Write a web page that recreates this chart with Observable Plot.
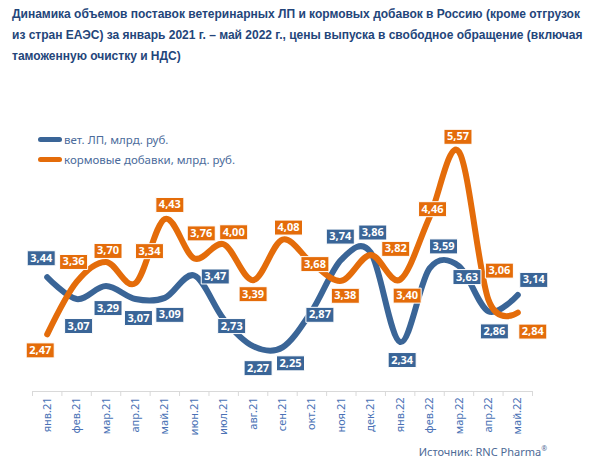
<!DOCTYPE html>
<html>
<head>
<meta charset="utf-8">
<script src="https://cdn.jsdelivr.net/npm/d3@7"></script>
<script src="https://cdn.jsdelivr.net/npm/@observablehq/plot@0.6"></script>
<style>
  body { margin: 0; background: #fff; }
  #wrap { position: relative; width: 600px; height: 467px; overflow: hidden; font-family: "Noto Sans", sans-serif; }
  #title { position: absolute; left: 12px; top: 4px; font: bold 12px "Liberation Sans", Arial, sans-serif; color: #23457a; line-height: 21px; white-space: nowrap; }
  #chart { position: absolute; left: 0; top: 70px; }
  #legend { position: absolute; left: 38px; top: 130px; font-size: 11.5px; color: #4b6b9b; }
  .lg { display: flex; align-items: center; height: 19.5px; }
  .sw { width: 24px; height: 5px; border-radius: 3px; margin-right: 2px; }
  #source { position: absolute; right: 53px; top: 444px; font-size: 11px; color: #4d6a96; }
  #source sup { font-size: 7px; }
</style>
</head>
<body>
<div id="wrap">
  <div id="title">Динамика объемов поставок ветеринарных ЛП и кормовых добавок в Россию (кроме отгрузок<br>из стран ЕАЭС) за январь 2021 г. – май 2022 г., цены выпуска в свободное обращение (включая<br>таможенную очистку и НДС)</div>
  <div id="chart"></div>
  <div id="legend"></div>
  <div id="source">Источник: RNC Pharma<sup>®</sup></div>
</div>
<script>
// Months, January 2021 – May 2022
const months = ["янв.21", "фев.21", "мар.21", "апр.21", "май.21", "июн.21", "июл.21", "авг.21", "сен.21",
                "окт.21", "ноя.21", "дек.21", "янв.22", "фев.22", "мар.22", "апр.22", "май.22"];

// Supplies, bn rub.
const vetLP   = [3.44, 3.07, 3.29, 3.07, 3.09, 3.47, 2.73, 2.27, 2.25, 2.87, 3.74, 3.86, 2.34, 3.59, 3.63, 2.86, 3.14];
const feedAdd = [2.47, 3.36, 3.70, 3.34, 4.43, 3.76, 4.00, 3.39, 4.08, 3.68, 3.38, 3.82, 3.40, 4.46, 5.57, 3.06, 2.84];

const seriesNames = ["вет. ЛП, млрд. руб.", "кормовые добавки, млрд. руб."];
const colors = ["#3a6597", "#e46c0a"];

// Value-label placement relative to each point, in pixels [dx, dy]
const vetLabelOffset = [[-6,-19],[2,27],[2,22],[3,19],[5,17],[21,1],[8,7],[5,22],[8,16],[8,4],[-1,-23],[2,-20],[2,18],[14,-22],[8,11],[6,20],[16,-15]];
const feedLabelOffset = [[-7,16],[-3,-20],[2,-11],[14,-32],[5,-14],[7,-25],[10,-12],[0,14],[6,-12],[3,1],[4,15],[25,-6],[7,16],[3,-8],[-1,-15],[11,-29],[15,19]];

const W = 600, H = 397;
const mL = 32, mR = 68, mT = 56, mB = 76;
const xDomain = [-0.5, months.length - 0.5];
const yDomain = [1.5, 6];
const kx = (W - mL - mR) / (xDomain[1] - xDomain[0]);
const ky = (H - mT - mB) / (yDomain[1] - yDomain[0]);

const idx = d3.range(months.length);
const labelRows = (vals, offs, color) =>
  vals.map((v, i) => ({ i, v, x: i + offs[i][0] / kx, y: v - offs[i][1] / ky, color }));
const labels = [...labelRows(vetLP, vetLabelOffset, colors[0]), ...labelRows(feedAdd, feedLabelOffset, colors[1])];

// Rectangular badge behind each value label
const badge = { draw(ctx) { ctx.moveTo(-14, -7.5); ctx.lineTo(14, -7.5); ctx.lineTo(14, 7.5); ctx.lineTo(-14, 7.5); ctx.closePath(); } };
const fmt = v => v.toFixed(2).replace(".", ",");

const chart = Plot.plot({
  width: W, height: H,
  marginLeft: mL, marginRight: mR, marginTop: mT, marginBottom: mB,
  style: { fontFamily: "Noto Sans, sans-serif", background: "transparent" },
  x: { type: "linear", domain: xDomain, label: null },
  y: { domain: yDomain, axis: null },
  marks: [
    Plot.ruleY([yDomain[0]], { stroke: "#d9d9d9", strokeWidth: 1 }),
    Plot.axisX(d3.range(xDomain[0], xDomain[1] + 0.01, 1), { tickSize: 5, tickFormat: () => "", stroke: "#d9d9d9", label: null }),
    Plot.axisX(idx, { tickSize: 0, tickPadding: 6, tickRotate: -90, tickFormat: i => months[i], fill: "#4a72b5", fontSize: 11, label: null }),
    Plot.line(idx, { x: i => i, y: i => vetLP[i], curve: "cardinal", stroke: colors[0], strokeWidth: 6, strokeLinecap: "round", strokeLinejoin: "round" }),
    Plot.line(idx, { x: i => i, y: i => feedAdd[i], curve: "cardinal", stroke: colors[1], strokeWidth: 6, strokeLinecap: "round", strokeLinejoin: "round" }),
    Plot.dot(labels, { x: "x", y: "y", symbol: badge, fill: "color", stroke: "white", strokeWidth: 1 }),
    Plot.text(labels, { x: "x", y: "y", text: d => fmt(d.v), fill: "white", fontWeight: "bold", fontSize: 11 })
  ]
});
document.getElementById("chart").appendChild(chart);

// Legend
const legend = document.getElementById("legend");
seriesNames.forEach((name, k) => {
  const row = document.createElement("div");
  row.className = "lg";
  const sw = document.createElement("span");
  sw.className = "sw";
  sw.style.background = colors[k];
  row.appendChild(sw);
  row.appendChild(document.createTextNode(name));
  legend.appendChild(row);
});
</script>
</body>
</html>
